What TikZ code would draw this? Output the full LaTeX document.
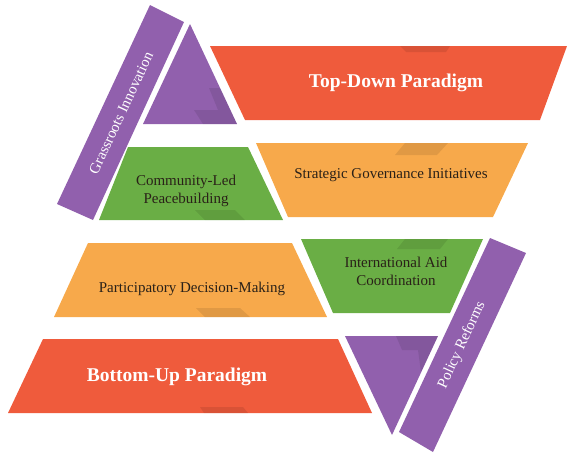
\documentclass[tikz,border=0pt]{standalone}
\usepackage{fontspec}
\setmainfont{Liberation Serif}
\definecolor{parared}{HTML}{EF5B3C}
\definecolor{paraorange}{HTML}{F7A94B}
\definecolor{paragreen}{HTML}{6AAE45}
\definecolor{parapurple}{HTML}{9160AD}
\definecolor{labeldark}{HTML}{2A2118}
\begin{document}
\begin{tikzpicture}[x=1pt,y=-1pt,
  redpanel/.style={fill=parared},
  orangepanel/.style={fill=paraorange},
  greenpanel/.style={fill=paragreen},
  purplepanel/.style={fill=parapurple},
  fold/.style={fill=black,fill opacity=0.09},
  headlabel/.style={text=white,font=\fontsize{19.5}{22}\selectfont\bfseries},
  itemlabel/.style={text=labeldark,font=\fontsize{15}{18}\selectfont,align=center},
  sidelabel/.style={text=white,font=\fontsize{15}{17}\selectfont,rotate=65}
]
\useasboundingbox (0,0) rectangle (567,453);

% upper half
\fill[purplepanel] (150,5) -- (184,22) -- (93,220) -- (57,204) -- cycle;
\fill[purplepanel] (190,24) -- (237,124) -- (143,124) -- cycle;
\fill[fold] (209,88) -- (218,110) -- (194,110) -- (203,124) -- (237,124) -- (220,88) -- cycle;
\fill[redpanel] (210,46) -- (567,46) -- (540,120) -- (245,120) -- cycle;
\fill[fold] (400,46) -- (450,46) -- (446,52) -- (406,52) -- cycle;
\fill[greenpanel] (128,147) -- (248,147) -- (283,220) -- (99,220) -- cycle;
\fill[fold] (195,210) -- (235,210) -- (245,220) -- (205,220) -- cycle;
\fill[orangepanel] (256,143) -- (528,143) -- (493,217) -- (288,217) -- cycle;
\fill[fold] (405,143) -- (448,143) -- (437,155) -- (395,155) -- cycle;

% lower half
\fill[orangepanel] (88,243) -- (292,243) -- (327,317) -- (54,317) -- cycle;
\fill[fold] (196,308) -- (240,308) -- (250,317) -- (205,317) -- cycle;
\fill[greenpanel] (301,239) -- (483,239) -- (450,313) -- (333,313) -- cycle;
\fill[fold] (405,239) -- (448,239) -- (440,249) -- (397,249) -- cycle;
\fill[redpanel] (43,339) -- (338,339) -- (372,413) -- (8,413) -- cycle;
\fill[fold] (200,407) -- (243,407) -- (248,413) -- (204,413) -- cycle;
\fill[purplepanel] (345,336) -- (438,336) -- (392,435) -- cycle;
\fill[fold] (396,336) -- (438,336) -- (421,372) -- (418,350) -- (402,350) -- cycle;
\fill[purplepanel] (490,238) -- (526,253) -- (433,452) -- (399,432) -- cycle;

% labels
\node[sidelabel] (grass) at (121,113) {Grassroots Innovation};
\node[headlabel] (topdown) at (396,83) {Top-Down Paradigm};
\node[itemlabel] (strategic) at (391,175) {Strategic Governance Initiatives};
\node[itemlabel] (community) at (186,191) {Community-Led\\Peacebuilding};
\node[itemlabel] (particip) at (192,289) {Participatory Decision-Making};
\node[itemlabel] (intaid) at (396,271) {International Aid\\Coordination};
\node[headlabel] (bottomup) at (177,377) {Bottom-Up Paradigm};
\node[sidelabel] (policy) at (462,345) {Policy Reforms};
\end{tikzpicture}
\end{document}
